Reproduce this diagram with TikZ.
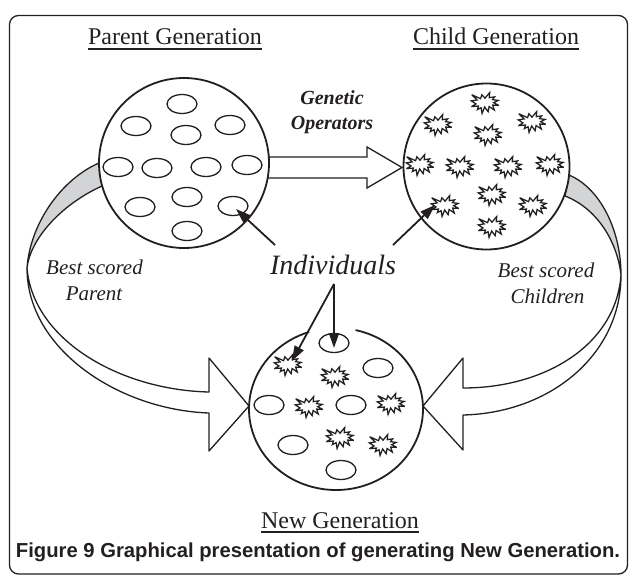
\documentclass[tikz,border=0pt]{standalone}
\usepackage{fontspec}
\setmainfont{Liberation Serif}
\newfontfamily\capfont{Liberation Sans}
\usetikzlibrary{arrows.meta,shapes.geometric}
\definecolor{ink}{RGB}{35,31,32}
\definecolor{ribbon}{RGB}{211,212,214}
\tikzset{
  every node/.style={inner sep=0pt, text=ink},
  ring/.style={draw=ink, line width=1.8pt, fill=white, circle},
  blob/.style={draw=ink, line width=1.3pt, ellipse, minimum width=30pt, minimum height=19pt},
  band/.style={draw=ink, line width=1.3pt, line join=round},
  pointer/.style={draw=ink, line width=1.8pt, -{Triangle[length=15pt,width=10pt]}},
  title/.style={font=\fontsize{24}{28}\selectfont, anchor=base},
  lbl/.style={font=\fontsize{21}{25}\selectfont\itshape, anchor=base},
  burst/.pic={
    \draw[draw=ink, line width=1.25pt, line join=miter, miter limit=4, xscale=0.98, yscale=0.95]
      (0,-5.09) -- (4.82,-11.0) -- (4.35,-5.58) -- (9.83,-6.46) -- (7.65,-3.55)
      -- (13.35,-2.71) -- (8.82,-0.33) -- (14.0,2.54) -- (7.83,2.18) -- (9.52,7.43)
      -- (4.17,3.72) -- (3.17,9.10) -- (-0.35,4.21) -- (-3.00,11.0) -- (-4.00,4.92)
      -- (-7.83,6.94) -- (-6.65,3.19) -- (-13.83,3.86) -- (-9.18,0.99) -- (-14.0,-2.23)
      -- (-8.00,-3.24) -- (-13.52,-8.66) -- (-4.52,-4.56) -- (-3.17,-8.66) -- cycle;
  }
}
\begin{document}
\begin{tikzpicture}[x=1pt, y=-1pt]
\useasboundingbox (0,0) rectangle (629,575);

% outer frame
\draw[ink, line width=1.3pt, rounded corners=9pt] (9.5,15.5) rectangle (627.5,574);

% titles with underlines
\node[title] (tpar) at (175,45) {Parent Generation};
\node[title] (tchi) at (496,45) {Child Generation};
\node[title] (tnew) at (340,528) {New Generation};
\foreach \t in {tpar,tchi,tnew}
  \draw[ink, line width=1.6pt] ([yshift=-4pt]\t.base west) -- ([yshift=-4pt]\t.base east);

% curved ribbon: parent -> new generation
\draw[band, fill=ribbon] (99,163) .. controls (60,180) and (30,225) .. (27,268)
  .. controls (30,240) and (60,205) .. (102,186) -- cycle;
\draw[band, fill=white] (27,268) .. controls (33,340) and (120,390) .. (209,392)
  -- (209,358) -- (249,406) -- (209,451) -- (209,413)
  .. controls (120,410) and (27,350) .. (27,268) -- cycle;

% curved ribbon: child -> new generation
\draw[band, fill=ribbon] (569,175) .. controls (600,188) and (621,230) .. (621,275)
  .. controls (617,240) and (596,208) .. (565,196) -- cycle;
\draw[band, fill=white] (621,275) .. controls (616,345) and (545,388) .. (463,388)
  -- (463,358) -- (423,406) -- (463,450) -- (463,415)
  .. controls (550,413) and (621,355) .. (621,275) -- cycle;

% block arrow for the genetic operators
\draw[band, line join=miter, fill=white] (250,157) -- (367,157) -- (367,147) -- (402,167.5)
  -- (367,188) -- (367,178) -- (250,178) -- cycle;
\node[font=\fontsize{20}{24}\selectfont\bfseries\itshape, anchor=base] (gen) at (332,105) {Genetic};
\node[font=\fontsize{20}{24}\selectfont\bfseries\itshape, anchor=base] (ops) at (332,130) {Operators};

% populations
\node[ring, minimum size=170pt] (par) at (184,163) {};
\node[ring, minimum size=166pt] (chi) at (486.5,166.5) {};
\fill[white] (336,409) ellipse [x radius=87, y radius=81];
\draw[ink, line width=1.8pt] (336,409) ++(-77:87 and 81)
  arc [start angle=-77, end angle=252, x radius=87, y radius=81];

% parent individuals
\foreach \p [count=\i] in {(182,104),(136,126),(186,135),(230,125),(118,167),(157,168),
    (206,167),(247,165),(140,207),(187,197),(233,206),(187,231)}
  \node[blob] (pe\i) at \p {};

% child individuals
\foreach \p [count=\i] in {(485,103),(438,125),(532,122),(488,135),(420,165),(460,167),
    (508,167),(550,165),(492,195),(445,206),(533,206),(492,227)}
  \pic at \p {burst};

% new generation individuals
\foreach \p [count=\i] in {(334,343),(378,368),(269,405),(351,405),(293,445),(341,470)}
  \node[blob] (ne\i) at \p {};
\foreach \p in {(288,365),(335,377),(309,407),(391,404),(340,438),(383,445)}
  \pic at \p {burst};

% labels
\node[lbl] (bsp) at (94.5,274) {Best scored};
\node[lbl] (bpp) at (94,300) {Parent};
\node[lbl] (bsc) at (546,277) {Best scored};
\node[lbl] (bcc) at (547.5,303) {Children};
\node[font=\fontsize{28}{32}\selectfont\itshape, anchor=base] (ind) at (333,274) {Individuals};

% pointers from the label to sample individuals
\coordinate (indL) at (275,245);
\coordinate (indR) at (393,245);
\coordinate (indB) at (334,284);
\coordinate (hitP) at (236,209);
\coordinate (hitC) at (435,205);
\coordinate (hitS) at (292,361);
\coordinate (hitE) at (334,348);
\draw[pointer] (indL) -- (hitP);
\draw[pointer] (indR) -- (hitC);
\draw[pointer] (indB) -- (hitS);
\draw[pointer] (indB) -- (hitE);

% caption
\node[anchor=base] (cap) at (318,557)
  {\resizebox{604pt}{!}{\capfont\bfseries\fontsize{20}{24}\selectfont Figure 9 Graphical presentation of generating New Generation.}};
\end{tikzpicture}
\end{document}
